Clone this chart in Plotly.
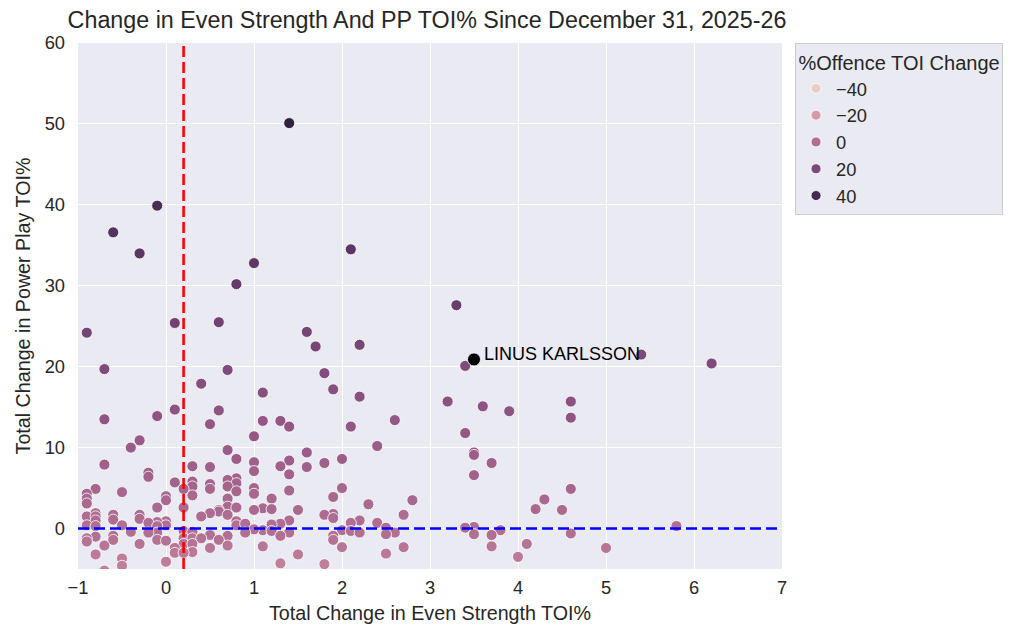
import numpy as np
import plotly.graph_objects as go

# ---------------- data ----------------
es_change = [
    1.4, -0.1, -0.6, -0.3, 2.1, 1.0, 0.8, 3.3, 0.1, 0.6,
    -0.9, 1.6, 1.7, 2.2, -0.7, 0.7, 1.8, 3.4, 5.4, 6.2,
    1.9, 2.2, 1.1, 0.4, 3.2, 3.6, 3.9, 4.6, 4.6, -0.7,
    -0.1, 0.1, 0.6, 0.5, 1.1, 1.3, 1.4, 2.1, 2.6, 3.4,
    1.0, -0.3, -0.4, 2.4, 0.7, 1.6, 3.5, 3.5, 0.8, 2.0,
    1.4, 1.0, 1.8, 3.7, -0.7, 0.3, 1.3, 0.5, 1.6, 1.0,
    -0.2, -0.2, 1.4, 3.5, 0.8, 0.7, 0.1, 0.3, 0.8, 0.5,
    0.3, 0.7, 1.0, 2.0, 0.2, 0.5, -0.8, 4.6, 1.4, 0.8,
    -0.5, -0.9, 1.0, 0.3, 0.0, 1.9, -0.9, 0.7, 1.2, 4.3,
    0.0, 2.8, -0.9, 2.3, 0.7, -0.1, 0.2, 0.8, 1.1, 1.2,
    0.6, 1.0, 1.5, 4.2, 4.5, 0.6, 0.5, -0.8, 1.9, 1.8,
    2.7, -0.6, -0.3, 0.7, -0.9, -0.8, 0.4, 1.9, -0.3, -0.6,
    -0.8, 1.4, 2.2, 0.0, 0.8, -0.1, -0.2, 2.1, 2.4, 0.8,
    0.9, 1.3, 1.2, -0.9, -0.5, 0.0, -0.8, -0.1, 5.8, 3.5,
    1.1, 2.5, 3.4, 1.0, 2.0, 3.8, 0.2, 1.2, 2.1, -0.4,
    0.3, -0.1, -0.2, 0.9, 1.4, 2.2, 2.6, 4.6, 2.5, 3.5,
    3.7, 0.5, 1.3, -0.6, 1.9, -0.8, 0.7, 0.2, 0.3, 0.4,
    -0.9, -0.1, -0.6, 0.6, 1.9, -0.9, 0.0, 0.2, 0.3, -0.3,
    4.1, -0.7, 0.7, 1.1, 3.7, 2.0, 2.7, 0.1, 0.5, 5.0,
    0.1, 0.3, 0.2, 2.5, -0.8, 1.5, 4.0, -0.5, 0.0, 1.3,
    1.8, -0.5, -0.7,
]
pp_change = [
    50.1, 39.9, 36.6, 34.0, 34.5, 32.8, 30.2, 27.6, 25.4, 25.5,
    24.2, 24.3, 22.5, 22.7, 19.7, 19.6, 19.2, 20.1, 21.5, 20.4,
    17.2, 16.3, 16.8, 17.9, 15.7, 15.1, 14.5, 15.7, 13.7, 13.5,
    13.9, 14.7, 14.6, 12.9, 13.3, 13.3, 12.6, 12.6, 13.4, 11.8,
    11.4, 10.9, 10.0, 10.2, 9.7, 9.4, 9.4, 9.1, 8.6, 8.6,
    8.4, 8.2, 8.1, 8.1, 7.9, 7.7, 7.7, 7.6, 7.6, 7.1,
    6.9, 6.4, 6.7, 6.6, 6.2, 6.0, 5.7, 5.8, 5.6, 5.5,
    5.2, 5.2, 5.0, 5.0, 4.9, 4.9, 4.9, 4.9, 4.7, 4.6,
    4.5, 4.3, 4.3, 4.1, 4.0, 3.9, 3.7, 3.7, 3.7, 3.6,
    3.5, 3.5, 3.1, 3.0, 2.7, 2.6, 2.6, 2.6, 2.5, 2.4,
    2.3, 2.3, 2.3, 2.4, 2.3, 2.1, 1.9, 1.9, 1.8, 1.7,
    1.7, 1.7, 1.7, 1.7, 1.5, 1.5, 1.5, 1.3, 1.2, 1.1,
    1.0, 1.0, 1.0, 0.9, 0.9, 0.8, 0.7, 0.7, 0.7, 0.4,
    0.6, 0.6, 0.5, 0.4, 0.4, 0.4, 0.3, 0.3, 0.3, 0.2,
    -0.2, 0.1, 0.1, -0.1, -0.2, -0.2, -0.3, -0.3, -0.3, -0.4,
    -0.4, -0.5, -0.5, -0.5, -0.5, -0.5, -0.5, -0.6, -0.7, -0.7,
    -0.8, -0.8, -0.9, -0.9, -0.9, -1.0, -0.9, -1.2, -1.2, -1.2,
    -1.2, -1.4, -1.4, -1.4, -1.4, -1.6, -1.5, -1.9, -1.9, -1.9,
    -1.9, -2.1, -2.1, -2.2, -2.2, -2.3, -2.3, -2.4, -2.4, -2.4,
    -3.0, -2.9, -3.0, -3.1, -3.2, -3.2, -3.5, -3.7, -4.1, -4.3,
    -4.4, -4.6, -5.2,
]
offence_change = [
    47, 38, 34, 32, 32, 31, 29, 27, 24, 24,
    23, 23, 22, 22, 19, 19, 18, 19, 20, 19,
    16, 16, 16, 17, 15, 14, 14, 15, 13, 13,
    13, 14, 14, 12, 12, 12, 12, 12, 12, 11,
    11, 10, 9, 9, 9, 9, 9, 8, 8, 8,
    8, 7, 7, 7, 7, 7, 7, 7, 7, 6,
    6, 6, 6, 6, 6, 5, 5, 5, 5, 5,
    5, 5, 4, 4, 4, 4, 4, 4, 4, 4,
    4, 4, 4, 3, 3, 3, 3, 3, 3, 3,
    3, 3, 3, 2, 2, 2, 2, 2, 2, 2,
    2, 2, 2, 2, 2, 2, 1, 1, 1, 1,
    1, 1, 1, 1, 1, 1, 1, 1, 1, 1,
    1, 1, 1, 0, 0, 0, 0, 0, 0, 0,
    0, 0, 0, 0, 0, 0, 0, 0, 0, 0,
    0, 0, 0, 0, 0, 0, -1, -1, -1, -1,
    -1, -1, -1, -1, -1, -1, -1, -1, -1, -1,
    -1, -1, -1, -1, -1, -1, -1, -2, -2, -2,
    -2, -2, -2, -2, -2, -2, -2, -3, -3, -3,
    -3, -4, -4, -4, -4, -4, -4, -4, -4, -4,
    -5, -5, -5, -5, -6, -6, -6, -7, -7, -8,
    -8, -8, -9,
]

highlight_name = "LINUS KARLSSON"
highlight_es = [3.5]
highlight_pp = [20.9]

es_reference = 0.2
pp_reference = 0.0

legend_levels = [-40, -20, 0, 20, 40]
legend_labels = ["\u221240", "\u221220", "0", "20", "40"]
hue_min, hue_max = -42, 48

x_ticks = [-1, 0, 1, 2, 3, 4, 5, 6, 7]
y_ticks = [0, 10, 20, 30, 40, 50, 60]

# ---------------- seaborn-like cubehelix palette ----------------
def cubehelix_rgb(n=6, start=0.0, rot=0.4, gamma=1.0, hue=0.8, light=0.85, dark=0.15):
    x = np.linspace(light, dark, n)
    xg = x ** gamma
    a = hue * xg * (1 - xg) / 2
    phi = 2 * np.pi * (start / 3 + rot * x)
    r = xg + a * (-0.14861 * np.cos(phi) + 1.78277 * np.sin(phi))
    g = xg + a * (-0.29227 * np.cos(phi) - 0.90649 * np.sin(phi))
    b = xg + a * (1.97294 * np.cos(phi))
    return np.clip(np.stack([r, g, b], axis=1), 0, 1)

pal = cubehelix_rgb()
stops = np.linspace(0, 1, len(pal))
colorscale = [[float(s), "rgb(%d,%d,%d)" % tuple((c * 255).round())] for s, c in zip(stops, pal)]

def hue_color(v):
    t = (v - hue_min) / (hue_max - hue_min)
    t = min(max(t, 0), 1)
    rgb = [np.interp(t, stops, pal[:, k]) for k in range(3)]
    return "rgb(%d,%d,%d)" % tuple(int(round(c * 255)) for c in rgb)

FONT = "Liberation Sans, Arial, DejaVu Sans, sans-serif"
TXT = "#262626"

fig = go.Figure()

fig.add_trace(go.Scatter(
    x=es_change, y=pp_change, mode="markers", showlegend=False,
    marker=dict(size=11, color=offence_change, colorscale=colorscale,
                cmin=hue_min, cmax=hue_max, showscale=False,
                line=dict(color="white", width=0.8)),
    hoverinfo="x+y",
))

for lvl, lab in zip(legend_levels, legend_labels):
    fig.add_trace(go.Scatter(
        x=[None], y=[None], mode="markers", name=lab, showlegend=True,
        marker=dict(size=10, color=hue_color(lvl), line=dict(color="white", width=0.8)),
    ))

fig.add_trace(go.Scatter(
    x=highlight_es, y=highlight_pp, mode="markers", showlegend=False,
    marker=dict(size=13, color="black", line=dict(color="white", width=0.8)),
))
fig.add_annotation(x=highlight_es[0], y=highlight_pp[0], text=highlight_name,
                   showarrow=False, xanchor="left", yanchor="middle", xshift=8, yshift=5,
                   font=dict(family=FONT, size=18, color="black"))

fig.add_shape(type="line", xref="x", yref="paper", x0=es_reference, x1=es_reference,
              y0=0, y1=1, line=dict(color="red", width=2.6, dash="11px,5px"), layer="above")
fig.add_shape(type="line", xref="paper", yref="y", x0=0, x1=1,
              y0=pp_reference, y1=pp_reference,
              line=dict(color="blue", width=2.6, dash="11px,5px"), layer="above")

fig.update_layout(
    width=1024, height=643,
    margin=dict(l=70, r=250, t=35, b=82),
    paper_bgcolor="white", plot_bgcolor="#EAEAF2",
    font=dict(family=FONT, size=18, color=TXT),
    title=dict(text="Change in Even Strength And PP TOI% Since December 31, 2025-26",
               x=(62 + 776) / 2 / 1024, xanchor="center", y=1 - 12 / 643, yanchor="middle",
               font=dict(size=23.3, color=TXT)),
    xaxis=dict(range=[-1, 7], tickvals=x_ticks, showgrid=True, gridcolor="white",
               gridwidth=1.3, zeroline=False, showline=False, ticks="",
               tickfont=dict(size=18.3, color=TXT), ticklabelstandoff=6,
               title=dict(text="Total Change in Even Strength TOI%", font=dict(size=19.7, color=TXT), standoff=8)),
    yaxis=dict(range=[-5, 60], tickvals=y_ticks, showgrid=True, gridcolor="white",
               gridwidth=1.3, zeroline=False, showline=False, ticks="",
               tickfont=dict(size=18.3, color=TXT), ticklabelstandoff=12,
               title=dict(text="Total Change in Power Play TOI%", font=dict(size=19.7, color=TXT), standoff=8)),
    legend=dict(x=1.0185, y=1.0, xanchor="left", yanchor="top",
                bgcolor="#EAEAF2", bordercolor="#CCCCCC", borderwidth=1,
                font=dict(size=18.3, color=TXT),
                title=dict(text="%Offence TOI Change", font=dict(size=20, color=TXT), side="top center"),
                itemsizing="trace", tracegroupgap=0),
)

fig.write_html("out.html")
